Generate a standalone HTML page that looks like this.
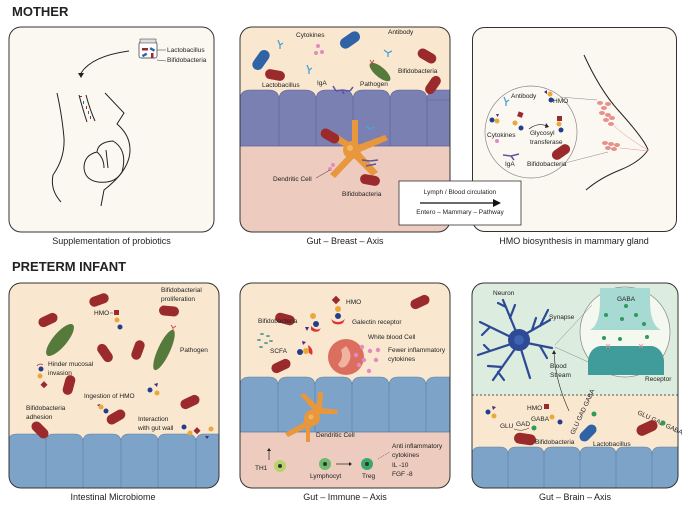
<!DOCTYPE html>
<html><head><meta charset="utf-8"><style>
html,body{margin:0;padding:0;background:#fff;}
svg{display:block;font-family:"Liberation Sans",sans-serif;}
text{font-size:6.5px;fill:#222;}
.cap{font-size:9px;}
.h{font-size:13px;font-weight:bold;}
.ln{fill:none;stroke:#222;stroke-width:1;}
</style></head><body>
<svg width="685" height="509" viewBox="0 0 685 509" xmlns="http://www.w3.org/2000/svg">
<defs>
<clipPath id="c2"><rect x="240" y="27" width="210" height="205" rx="12"/></clipPath>
<clipPath id="c4"><rect x="9" y="283" width="210" height="205" rx="12"/></clipPath>
<clipPath id="c5"><rect x="240" y="283" width="210" height="205" rx="12"/></clipPath>
<clipPath id="c6"><rect x="472" y="283" width="206" height="205" rx="12"/></clipPath>
<g id="rb"><rect x="-10" y="-5" width="20" height="10" rx="5" fill="#9a2a2c"/></g>
<g id="bb"><rect x="-10" y="-5" width="20" height="10" rx="5" fill="#2f63a6"/></g>
</defs>
<text x="12" y="16" class="h">MOTHER</text>
<text x="12" y="271" class="h">PRETERM INFANT</text>

<!-- Panel 1 -->
<rect x="9" y="27" width="205" height="205" rx="12" fill="#fbf8f1" stroke="#333" stroke-width="1"/>
<rect x="139" y="42" width="18" height="16" rx="2" fill="#fff" stroke="#333" stroke-width="0.7"/>
<rect x="140" y="39" width="16" height="4" fill="#ddd" stroke="#333" stroke-width="0.5"/>
<rect x="142" y="48" width="6" height="2.5" fill="#9a2a2c"/><rect x="150" y="48" width="5" height="2.5" fill="#2f63a6" transform="rotate(30 152 49)"/>
<rect x="142" y="54" width="5" height="2.5" fill="#2f63a6" transform="rotate(-30 144 55)"/><rect x="151" y="53" width="2.5" height="5" fill="#9a2a2c"/>
<line x1="157" y1="50" x2="166" y2="50" stroke="#333" stroke-width="0.5"/>
<line x1="157" y1="60" x2="166" y2="61" stroke="#333" stroke-width="0.5"/>
<text x="167" y="52">Lactobacillus</text><text x="167" y="62">Bifidobacteria</text>
<path class="ln" d="M129 51 Q92 56 81 73"/><path d="M78 73 L84 73 L81 78Z" fill="#222"/>
<path class="ln" d="M57 93 Q62 115 64 138 Q65 158 53 175 Q50 190 61 202"/>
<path class="ln" d="M105 93 L124 113 L117 124 Q130 135 130 150 Q130 170 104 190 L101 206"/>
<path class="ln" d="M79 95 Q83 110 87 122 M86 95 Q90 110 95 121"/>
<rect x="80" y="96" width="2" height="1" fill="#9a2a2c"/><rect x="83" y="101" width="1" height="3" fill="#2f63a6"/><rect x="86" y="106" width="1" height="3" fill="#9a2a2c"/><rect x="88" y="111" width="1" height="3" fill="#2f63a6"/><rect x="90" y="116" width="1" height="3" fill="#9a2a2c"/>
<path class="ln" d="M113 141 Q128 150 122 172 Q115 184 98 182 Q85 180 84 168 Q84 155 97 152 Q98 142 113 141Z"/>
<path class="ln" d="M97 152 Q104 158 104 168 M106 150 L108 168"/>
<text x="111.5" y="244" class="cap" text-anchor="middle">Supplementation of probiotics</text>

<!-- Panel 2 -->
<g clip-path="url(#c2)">
<rect x="240" y="27" width="210" height="205" fill="#f9e8cf"/>
<rect x="240" y="100" width="210" height="46" fill="#7b80b3"/>
<path d="M240 100 Q240 90 250 90 L269 90 Q279 90 279 100 M279 100 Q279 90 289 90 L305 90 Q316 90 316 100 M316 100 Q316 90 326 90 L343 90 Q353 90 353 100 M353 100 Q353 90 363 90 L380 90 Q390 90 390 100 M390 100 Q390 90 400 90 L417 90 Q427 90 427 100 M427 100 Q427 90 437 90 L450 90 L450 100Z" fill="#7b80b3" stroke="#5c6096" stroke-width="0.6"/>
<path d="M279 100 V146 M316 100 V146 M353 100 V146 M390 100 V146 M427 100 V146" stroke="#5c6096" stroke-width="0.6"/>
<rect x="240" y="146" width="210" height="90" fill="#edcbbe"/>
<line x1="240" y1="146" x2="450" y2="146" stroke="#5c6096" stroke-width="0.8"/>
</g>
<rect x="240" y="27" width="210" height="205" rx="12" fill="none" stroke="#333" stroke-width="1"/>
<use href="#bb" transform="translate(261 60) rotate(-55) scale(1.1)"/>
<use href="#bb" transform="translate(350 40) rotate(-35) scale(1.1)"/>
<use href="#rb" transform="translate(275 75) rotate(10)"/>
<use href="#rb" transform="translate(427 56) rotate(30)"/>
<use href="#rb" transform="translate(433 85) rotate(-55)"/>
<ellipse cx="380" cy="72" rx="13" ry="5" fill="#557a3c" transform="rotate(40 380 72)"/>
<path d="M370 60 l2 3 l2 -3 M372 63 v3" stroke="#c33" stroke-width="0.8" fill="none"/>
<circle cx="318" cy="46" r="2" fill="#e38bc0"/><circle cx="322" cy="52" r="2" fill="#e38bc0"/><circle cx="316" cy="53" r="2" fill="#e38bc0"/>
<path d="M278 40 l2 5 l3 -2 M280 45 v4" stroke="#4ba3d3" stroke-width="1.3" fill="none"/>
<path d="M307 65 l2 5 l3 -2 M309 70 v4" stroke="#4ba3d3" stroke-width="1.3" fill="none"/>
<path d="M384 50 l4 3 l4 -2 M388 53 v4" stroke="#4ba3d3" stroke-width="1.3" fill="none"/>
<path d="M336 91 l-3 -5 M336 91 l6 -1 l8 1 M350 91 l3 -4 M342 90 l2 4" stroke="#5a57a0" stroke-width="1.5" fill="none"/>
<text x="262" y="87">Lactobacillus</text><text x="296" y="37">Cytokines</text><text x="388" y="34">Antibody</text>
<text x="398" y="73">Bifidobacteria</text>
<text x="317" y="85">IgA</text><text x="360" y="86">Pathogen</text>
<g fill="#e9973c">
<path d="M350 150 L320 132 L330 130 L352 144 L352 120 L358 120 L358 145 L385 135 L388 140 L360 152 L378 172 L372 176 L354 158 L335 178 L330 174 L348 155 Z"/>
<circle cx="352" cy="150" r="9"/>
</g>
<circle cx="350" cy="148" r="3" fill="#f3b560"/>
<use href="#rb" transform="translate(330 136) rotate(30)"/>
<use href="#rb" transform="translate(370 180) rotate(10)"/>
<path d="M366 126 l4 3 l4 -2" stroke="#4ba3d3" stroke-width="1.5" fill="none"/>
<path d="M362 160 l8 1 l8 -1 M366 166 l10 -2" stroke="#5a57a0" stroke-width="1.5" fill="none"/>
<circle cx="333" cy="165" r="2" fill="#e38bc0"/><circle cx="330" cy="169" r="2" fill="#e38bc0"/>
<line x1="316" y1="178" x2="330" y2="170" stroke="#333" stroke-width="0.5"/>
<text x="273" y="181">Dendritic Cell</text><text x="342" y="196">Bifidobacteria</text>
<text x="345" y="244" class="cap" text-anchor="middle">Gut – Breast – Axis</text>

<!-- Panel 3 -->
<rect x="472.5" y="27.5" width="204" height="204" rx="12" fill="#fbf8f1" stroke="#333" stroke-width="1"/>
<rect x="399" y="181" width="122" height="44" fill="#fff" stroke="#333" stroke-width="0.8"/>
<text x="460" y="194" text-anchor="middle">Lymph / Blood circulation</text>
<line x1="420" y1="203" x2="495" y2="203" stroke="#111" stroke-width="1.3"/><path d="M493 199 L501 203 L493 207Z" fill="#111"/>
<text x="460" y="214" text-anchor="middle">Entero – Mammary – Pathway</text>
<path class="ln" d="M584 55 Q600 90 618 110 Q645 140 648 150 Q640 162 620 170 Q600 178 586 190"/>
<circle cx="531" cy="132" r="46" fill="#fbf8f1" stroke="#888" stroke-width="0.7"/>
<line x1="560" y1="97" x2="597" y2="100" stroke="#888" stroke-width="0.5"/><line x1="565" y1="163" x2="608" y2="152" stroke="#888" stroke-width="0.5"/>
<g fill="#e8908c"><ellipse cx="600" cy="103" rx="3" ry="2"/><ellipse cx="604" cy="108" rx="3" ry="2"/><ellipse cx="602" cy="113" rx="3" ry="2"/><ellipse cx="608" cy="115" rx="3" ry="2"/><ellipse cx="606" cy="120" rx="3" ry="2"/><ellipse cx="611" cy="124" rx="3" ry="2"/><ellipse cx="608" cy="104" rx="3" ry="2"/><ellipse cx="612" cy="118" rx="3" ry="2"/><ellipse cx="605" cy="143" rx="3" ry="2"/><ellipse cx="611" cy="144" rx="3" ry="2"/><ellipse cx="617" cy="145" rx="3" ry="2"/><ellipse cx="608" cy="148" rx="3" ry="2"/><ellipse cx="614" cy="149" rx="3" ry="2"/></g>
<path d="M614 126 Q630 140 648 150 M620 148 L648 151" stroke="#e8908c" stroke-width="0.5" fill="none"/>
<path d="M504 97 l2 5 l3 -2 M506 102 v4" stroke="#4ba3d3" stroke-width="1.3" fill="none"/>
<text x="511" y="98">Antibody</text><text x="553" y="103">HMO</text>
<circle cx="550" cy="94" r="2.5" fill="#eba83a"/><circle cx="551" cy="100" r="2.5" fill="#233f8c"/><path d="M544 92 l3 -2 v4Z" fill="#4a2a7a"/>
<circle cx="497" cy="121" r="2.5" fill="#eba83a"/><circle cx="492" cy="120" r="2.5" fill="#233f8c"/><path d="M496 114 l3 0 l-1.5 3Z" fill="#4a2a7a"/>
<rect x="518" y="112" width="5" height="5" fill="#9a2a2c" transform="rotate(20 520 114)"/><circle cx="515" cy="123" r="2.5" fill="#eba83a"/><circle cx="521" cy="128" r="2.5" fill="#233f8c"/>
<path d="M529 129 Q538 122 547 126" stroke="#222" fill="none" stroke-width="0.7"/><path d="M546 123 L549 127 L545 128Z" fill="#222"/>
<rect x="557" y="116" width="5" height="5" fill="#9a2a2c"/><circle cx="559" cy="124" r="2.5" fill="#eba83a"/><circle cx="561" cy="130" r="2.5" fill="#233f8c"/>
<text x="487" y="137">Cytokines</text><circle cx="497" cy="141" r="2" fill="#e38bc0"/>
<text x="530" y="135">Glycosyl</text><text x="530" y="144">transferase</text>
<path d="M503 155 l8 1 l8 -2 M511 156 l3 4" stroke="#5a57a0" stroke-width="1.5" fill="none"/>
<text x="505" y="166">IgA</text><use href="#rb" transform="translate(561 152) rotate(-35)"/><text x="527" y="166">Bifidobacteria</text>
<text x="574" y="244" class="cap" text-anchor="middle">HMO biosynthesis in mammary gland</text>

<!-- Panel 4 -->
<g clip-path="url(#c4)">
<rect x="9" y="283" width="210" height="205" fill="#f9e8cf"/>
<path d="M9 488 V440 Q9 434 17 434 L37 434 Q46 434 46 442 Q46 434 54 434 L74 434 Q83 434 83 442 Q83 434 91 434 L112 434 Q121 434 121 442 Q121 434 129 434 L150 434 Q158 434 158 442 Q158 434 166 434 L187 434 Q196 434 196 442 Q196 434 204 434 L219 434 V488Z" fill="#7ea3c9" stroke="#5a7ea6" stroke-width="0.6"/>
<path d="M46 442 V488 M83 442 V488 M121 442 V488 M158 442 V488 M196 442 V488" stroke="#5a7ea6" stroke-width="0.6"/>
</g>
<rect x="9" y="283" width="210" height="205" rx="12" fill="none" stroke="#333" stroke-width="1"/>
<use href="#rb" transform="translate(99 300) rotate(-20)"/>
<use href="#rb" transform="translate(48 320) rotate(-25)"/>
<use href="#rb" transform="translate(169 311) rotate(5)"/>
<use href="#rb" transform="translate(138 350) rotate(-70)"/>
<use href="#rb" transform="translate(105 353) rotate(55)"/>
<use href="#rb" transform="translate(69 385) rotate(-75)"/>
<use href="#rb" transform="translate(116 417) rotate(-30)"/>
<use href="#rb" transform="translate(190 402) rotate(-25)"/>
<use href="#rb" transform="translate(40 430) rotate(45)"/>
<ellipse cx="60" cy="340" rx="20" ry="7" fill="#557a3c" transform="rotate(-50 60 340)"/>
<ellipse cx="164" cy="350" rx="22" ry="6" fill="#557a3c" transform="rotate(-65 164 350)"/>
<path d="M171 325 l2 3 l3 -2 M173 328 v3" stroke="#c33" stroke-width="0.8" fill="none"/>
<path d="M37 366 a4 4 0 0 1 6 -1" stroke="#c33" stroke-width="0.8" fill="none"/>
<text x="161" y="292">Bifidobacterial</text><text x="161" y="301">proliferation</text>
<text x="94" y="315">HMO</text><line x1="110" y1="313" x2="113" y2="313" stroke="#333" stroke-width="0.5"/>
<rect x="114" y="310" width="5" height="5" fill="#9a2a2c"/><circle cx="117" cy="320" r="2.5" fill="#eba83a"/><circle cx="120" cy="327" r="2.5" fill="#233f8c"/>
<text x="180" y="352">Pathogen</text>
<circle cx="41" cy="369" r="2.5" fill="#233f8c"/><circle cx="40" cy="376" r="2.5" fill="#eba83a"/><rect x="42" y="382" width="5" height="5" fill="#9a2a2c" transform="rotate(45 44 384)"/>
<text x="48" y="366">Hinder mucosal</text><text x="48" y="375">invasion</text>
<circle cx="150" cy="390" r="2.5" fill="#233f8c"/><circle cx="157" cy="393" r="2.5" fill="#eba83a"/><path d="M154 384 l4 -1 l-1 4Z" fill="#4a2a7a"/>
<text x="84" y="398">Ingestion of HMO</text>
<path d="M97 405 l3 -1 v3Z" fill="#4a2a7a"/><circle cx="101" cy="407" r="2.5" fill="#eba83a"/><circle cx="106" cy="411" r="2.5" fill="#233f8c"/>
<text x="26" y="410">Bifidobacteria</text><text x="26" y="419">adhesion</text>
<text x="138" y="421">Interaction</text><text x="138" y="430">with gut wall</text>
<circle cx="184" cy="427" r="2.5" fill="#233f8c"/><circle cx="190" cy="433" r="2.5" fill="#eba83a"/><rect x="195" y="428" width="5" height="5" fill="#9a2a2c" transform="rotate(45 197 430)"/><circle cx="211" cy="429" r="2.5" fill="#eba83a"/><path d="M205 436 l4 0 l-2 3Z" fill="#4a2a7a"/>
<text x="113" y="500" class="cap" text-anchor="middle">Intestinal Microbiome</text>

<!-- Panel 5 -->
<g clip-path="url(#c5)">
<rect x="240" y="283" width="210" height="205" fill="#f9e8cf"/>
<path d="M240 432 V386 Q240 377 249 377 L269 377 Q278 377 278 386 Q278 377 287 377 L306 377 Q315 377 315 386 Q315 377 324 377 L343 377 Q352 377 352 386 Q352 377 361 377 L380 377 Q389 377 389 386 Q389 377 398 377 L417 377 Q426 377 426 386 Q426 377 435 377 L450 377 V432Z" fill="#7ea3c9" stroke="#5a7ea6" stroke-width="0.6"/>
<path d="M278 386 V432 M315 386 V432 M352 386 V432 M389 386 V432 M426 386 V432" stroke="#5a7ea6" stroke-width="0.6"/>
<rect x="240" y="432" width="210" height="60" fill="#edcbbe"/>
<line x1="240" y1="432" x2="450" y2="432" stroke="#5a7ea6" stroke-width="0.8"/>
</g>
<rect x="240" y="283" width="210" height="205" rx="12" fill="none" stroke="#333" stroke-width="1"/>
<use href="#rb" transform="translate(420 302) rotate(-25)"/>
<use href="#rb" transform="translate(285 319) rotate(15)"/>
<use href="#rb" transform="translate(281 366) rotate(-25)"/>
<g fill="#e9973c"><path d="M313 410 L300 395 L304 393 L317 405 L318 392 L323 392 L322 408 L338 410 L337 414 L320 414 L310 428 L310 442 L306 442 L306 428 L288 437 L285 433 L303 423 Z"/><circle cx="312" cy="418" r="8"/></g>
<circle cx="311" cy="417" r="2.5" fill="#f3b560"/>
<circle cx="346" cy="357" r="18" fill="#dc6e60"/><path d="M346 346 Q355 356 346 366 Q340 370 338 364 Q344 358 341 350Z" fill="#f0b3a0"/>
<text x="346" y="304">HMO</text><rect x="333" y="297" width="6" height="6" fill="#9a2a2c" transform="rotate(45 336 300)"/><circle cx="338" cy="309" r="3" fill="#eba83a"/><circle cx="338" cy="316" r="3" fill="#233f8c"/>
<path d="M331 319 q7 6 14 0 l-2 4 q-5 3 -10 0Z" fill="#d33"/>
<path d="M311 326 q6 6 10 2 l-2 3 q-4 2 -8 -1Z" fill="#d33"/><circle cx="313" cy="316" r="3" fill="#eba83a"/><circle cx="316" cy="324" r="3" fill="#233f8c"/><path d="M305 327 l4 0 l-2 4Z" fill="#4a2a7a"/>
<path d="M308 345 q6 4 4 10 l-3 -2Z" fill="#d33"/><circle cx="300" cy="352" r="3" fill="#233f8c"/><circle cx="306" cy="351" r="3" fill="#eba83a"/><path d="M302 341 l4 1 l-3 3Z" fill="#4a2a7a"/>
<text x="258" y="323">Bifidobacteria</text><text x="352" y="324">Galectin receptor</text><text x="368" y="339">White blood Cell</text>
<g fill="#5aa39a"><ellipse cx="262" cy="334" rx="2" ry="1"/><ellipse cx="268" cy="336" rx="2" ry="1"/><ellipse cx="259" cy="340" rx="2" ry="1"/><ellipse cx="266" cy="343" rx="2" ry="1"/><ellipse cx="271" cy="341" rx="2" ry="1"/><ellipse cx="261" cy="347" rx="2" ry="1"/></g>
<text x="270" y="353">SCFA</text>
<g fill="#e38bc0"><circle cx="362" cy="347" r="2.2"/><circle cx="370" cy="351" r="2.2"/><circle cx="378" cy="350" r="2.2"/><circle cx="356" cy="355" r="2.2"/><circle cx="364" cy="360" r="2.2"/><circle cx="376" cy="360" r="2.2"/><circle cx="359" cy="365" r="2.2"/><circle cx="369" cy="371" r="2.2"/></g>
<text x="388" y="352">Fewer inflammatory</text><text x="388" y="361">cytokines</text>
<text x="316" y="437">Dendritic Cell</text>
<line x1="269" y1="460" x2="269" y2="450" stroke="#222" stroke-width="0.7"/><path d="M267 451 l2 -3 l2 3Z" fill="#222"/>
<circle cx="280" cy="466" r="6" fill="#b6d46a"/><circle cx="280" cy="466" r="2" fill="#333"/><text x="255" y="470">TH1</text>
<circle cx="325" cy="464" r="6" fill="#6dbb6d"/><circle cx="325" cy="464" r="2" fill="#333"/><text x="310" y="478">Lymphocyt</text>
<line x1="336" y1="464" x2="350" y2="464" stroke="#222" stroke-width="0.7"/><path d="M349 462 l3 2 l-3 2Z" fill="#222"/>
<circle cx="367" cy="464" r="6" fill="#3aa86b"/><circle cx="367" cy="464" r="2" fill="#333"/><text x="362" y="478">Treg</text>
<path d="M378 459 L390 452" stroke="#222" stroke-width="0.5" stroke-dasharray="1 1"/>
<text x="392" y="448">Anti inflammatory</text><text x="392" y="457">cytokines</text><text x="392" y="467">IL -10</text><text x="392" y="476">FGF -8</text>
<text x="345" y="500" class="cap" text-anchor="middle">Gut – Immune – Axis</text>

<!-- Panel 6 -->
<g clip-path="url(#c6)">
<rect x="472" y="283" width="206" height="112" fill="#dcecde"/>
<rect x="472" y="395" width="206" height="95" fill="#f9e8cf"/>
<path d="M472 488 V455 Q472 447 480 447 L500 447 Q508 447 508 455 Q508 447 516 447 L536 447 Q544 447 544 455 Q544 447 552 447 L572 447 Q580 447 580 455 Q580 447 588 447 L608 447 Q616 447 616 455 Q616 447 624 447 L644 447 Q652 447 652 455 Q652 447 660 447 L678 447 V488Z" fill="#7ea3c9" stroke="#5a7ea6" stroke-width="0.6"/>
<path d="M508 455 V488 M544 455 V488 M580 455 V488 M616 455 V488 M652 455 V488" stroke="#5a7ea6" stroke-width="0.6"/>
</g>
<line x1="472" y1="395" x2="678" y2="395" stroke="#555" stroke-width="1" stroke-dasharray="2 2"/>
<rect x="472" y="283" width="206" height="205" rx="12" fill="none" stroke="#333" stroke-width="1"/>
<g stroke="#2c4a96" stroke-width="2.2" fill="none" stroke-linecap="round">
<path d="M517 334 L503 300 M506 307 L498 303 M510 318 L515 305"/>
<path d="M517 340 L480 322 M490 327 L482 335"/>
<path d="M517 342 L478 355 M490 351 L484 345"/>
<path d="M517 346 L493 380 M502 367 L488 366 M498 372 L504 380"/>
<path d="M520 346 L530 378"/>
<path d="M522 342 L552 348 M540 346 L547 358"/>
<path d="M522 336 L550 320 M540 326 L548 310 M532 330 L536 318"/>
</g>
<circle cx="519" cy="340" r="11" fill="#2c4a96"/><circle cx="519" cy="340" r="5" fill="#3f63ae"/>
<text x="493" y="295">Neuron</text><text x="549" y="319">Synapse</text>
<circle cx="625" cy="332" r="45" fill="#f4f8ef" stroke="#888" stroke-width="0.7"/>
<line x1="555" y1="345" x2="592" y2="305" stroke="#888" stroke-width="0.5"/><line x1="555" y1="347" x2="597" y2="366" stroke="#888" stroke-width="0.5"/>
<path d="M600 288 L600 300 Q600 325 590 330 L661 330 Q650 325 650 300 L650 288Z" fill="#a8dad4"/>
<path d="M588 375 L588 360 Q590 348 600 346 L652 346 Q662 348 664 360 L664 375Z" fill="#3f9c9a"/>
<text x="617" y="301">GABA</text>
<g fill="#2e9a5c"><circle cx="626" cy="306" r="2"/><circle cx="606" cy="315" r="2"/><circle cx="622" cy="319" r="2"/><circle cx="636" cy="315" r="2"/><circle cx="644" cy="324" r="2"/><circle cx="604" cy="338" r="2"/><circle cx="620" cy="339" r="2"/><circle cx="647" cy="337" r="2"/></g>
<path d="M606 344 l4 4 M610 344 l-4 4 M639 344 l4 4 M643 344 l-4 4" stroke="#e08a8a" stroke-width="0.8"/>
<text x="645" y="381">Receptor</text>
<path d="M569 411 Q555 380 554 352" stroke="#222" stroke-width="0.6" fill="none"/><path d="M552 354 l2 -4 l2 4Z" fill="#222"/>
<text x="550" y="368">Blood</text><text x="550" y="377">Stream</text>
<circle cx="488" cy="412" r="2.5" fill="#233f8c"/><circle cx="494" cy="416" r="2.5" fill="#eba83a"/><path d="M492 406 l4 1 l-3 3Z" fill="#4a2a7a"/>
<text x="527" y="410">HMO</text><rect x="544" y="404" width="5" height="5" fill="#9a2a2c"/><circle cx="552" cy="417" r="2.5" fill="#eba83a"/><circle cx="560" cy="422" r="2.5" fill="#233f8c"/>
<text x="500" y="428">GLU</text><text x="516" y="426">GAD</text><text x="531" y="421">GABA</text><circle cx="534" cy="428" r="2.5" fill="#2e9a5c"/>
<path d="M514 429 Q522 432 529 428" stroke="#222" stroke-width="0.5" fill="none"/>
<use href="#rb" transform="translate(525 439) rotate(8) scale(1.1)"/>
<text x="535" y="444">Bifidobacteria</text>
<text x="0" y="0" transform="translate(574 435) rotate(-65)">GLU GAD GABA</text><circle cx="594" cy="414" r="2.5" fill="#2e9a5c"/>
<use href="#bb" transform="translate(588 433) rotate(-45)"/>
<text x="593" y="446">Lactobacillus</text>
<text x="0" y="0" transform="translate(637 414) rotate(25)">GLU GAD GABA</text>
<circle cx="663" cy="423" r="2.5" fill="#2e9a5c"/>
<use href="#rb" transform="translate(647 428) rotate(-25) scale(1.1)"/>
<text x="575" y="500" class="cap" text-anchor="middle">Gut – Brain – Axis</text>
</svg>
</body></html>
